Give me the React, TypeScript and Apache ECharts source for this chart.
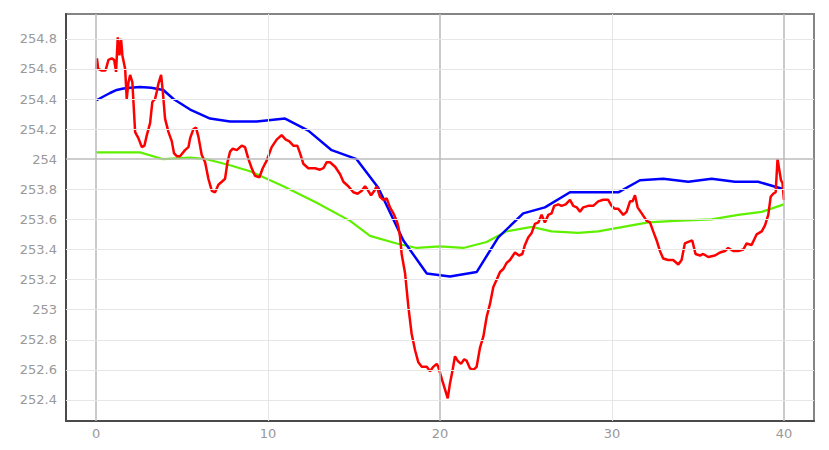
import React, { useEffect, useRef } from "react";
import * as echarts from "echarts";

// ---- data ----
const xTicks = [0, 10, 20, 30, 40];
const yTicks = [252.4, 252.6, 252.8, 253, 253.2, 253.4, 253.6, 253.8, 254, 254.2, 254.4, 254.6, 254.8];

const redX = [
  0.0, 0.05, 0.12, 0.3, 0.55, 0.72, 0.91, 1.05, 1.16, 1.26, 1.36, 1.45, 1.53, 1.69, 1.78, 1.88, 1.98, 2.11, 2.27, 2.46,
  2.66, 2.81, 2.95, 3.14, 3.27, 3.43, 3.53, 3.62, 3.78, 3.88, 4.01, 4.21, 4.4, 4.53, 4.69, 4.88, 5.17, 5.37, 5.47, 5.66,
  5.81, 5.95, 6.14, 6.34, 6.53, 6.73, 6.92, 7.11, 7.31, 7.5, 7.64, 7.79, 7.95, 8.18, 8.47, 8.66, 8.86, 9.05, 9.24, 9.5,
  9.69, 9.92, 10.21, 10.5, 10.79, 11.03, 11.22, 11.47, 11.7, 11.86, 12.05, 12.34, 12.73, 13.02, 13.22, 13.41, 13.6, 13.9, 14.19, 14.38,
  14.67, 14.96, 15.21, 15.45, 15.64, 15.83, 15.99, 16.18, 16.32, 16.51, 16.7, 16.9, 17.09, 17.29, 17.48, 17.58, 17.67, 17.77, 17.97, 18.16,
  18.35, 18.55, 18.74, 18.94, 19.23, 19.42, 19.61, 19.81, 19.9, 20.13, 20.29, 20.45, 20.58, 20.72, 20.87, 21.03, 21.22, 21.41, 21.55, 21.74,
  21.94, 22.13, 22.33, 22.52, 22.71, 22.91, 23.1, 23.3, 23.49, 23.68, 23.87, 24.07, 24.36, 24.59, 24.79, 24.94, 25.13, 25.33, 25.52, 25.72,
  25.91, 26.1, 26.3, 26.49, 26.64, 26.88, 27.07, 27.31, 27.56, 27.75, 27.95, 28.14, 28.33, 28.62, 28.91, 29.2, 29.49, 29.78, 29.98, 30.17,
  30.37, 30.66, 30.85, 31.05, 31.2, 31.34, 31.49, 31.73, 32.02, 32.21, 32.4, 32.6, 32.79, 32.98, 33.27, 33.56, 33.86, 34.05, 34.24, 34.44,
  34.67, 34.86, 35.12, 35.31, 35.6, 35.99, 36.28, 36.57, 36.76, 37.05, 37.34, 37.64, 37.83, 38.12, 38.41, 38.71, 38.9, 39.09, 39.23, 39.38,
  39.52, 39.63, 39.73, 39.83, 39.92, 40.0,
];
const redY = [
  254.6, 254.67, 254.6, 254.59, 254.59, 254.66, 254.67, 254.66, 254.58, 254.81, 254.69, 254.8, 254.69, 254.6, 254.4, 254.51, 254.56, 254.51, 254.18, 254.14,
  254.08, 254.09, 254.16, 254.24, 254.38, 254.4, 254.45, 254.5, 254.56, 254.45, 254.27, 254.18, 254.12, 254.04, 254.02, 254.02, 254.06, 254.08, 254.14, 254.2,
  254.21, 254.15, 254.03, 253.98, 253.87, 253.79, 253.78, 253.83, 253.85, 253.87, 253.98, 254.05, 254.07, 254.06, 254.09, 254.08, 254.0, 253.94, 253.89, 253.88,
  253.94, 253.99, 254.08, 254.13, 254.16, 254.13, 254.12, 254.09, 254.09, 254.04, 253.97, 253.94, 253.94, 253.93, 253.94, 253.98, 253.98, 253.95, 253.9, 253.85,
  253.82, 253.78, 253.77, 253.79, 253.82, 253.79, 253.76, 253.79, 253.82, 253.75, 253.73, 253.74, 253.68, 253.64, 253.59, 253.55, 253.49, 253.37, 253.24, 253.02,
  252.84, 252.73, 252.65, 252.62, 252.62, 252.59, 252.62, 252.64, 252.62, 252.53, 252.47, 252.41, 252.51, 252.59, 252.69, 252.66, 252.64, 252.67, 252.66, 252.61,
  252.6, 252.62, 252.75, 252.82, 252.95, 253.04, 253.15, 253.2, 253.25, 253.27, 253.31, 253.33, 253.38, 253.36, 253.37, 253.43, 253.48, 253.51, 253.57, 253.58,
  253.63, 253.58, 253.63, 253.64, 253.69, 253.7, 253.69, 253.7, 253.73, 253.69, 253.68, 253.65, 253.68, 253.69, 253.69, 253.72, 253.73, 253.73, 253.69, 253.67,
  253.67, 253.63, 253.65, 253.72, 253.72, 253.76, 253.68, 253.64, 253.59, 253.58, 253.52, 253.46, 253.39, 253.34, 253.33, 253.33, 253.3, 253.33, 253.44, 253.45,
  253.46, 253.37, 253.36, 253.37, 253.35, 253.36, 253.38, 253.39, 253.41, 253.39, 253.39, 253.4, 253.44, 253.43, 253.5, 253.52, 253.56, 253.63, 253.75, 253.77,
  253.78, 254.0, 253.93, 253.86, 253.84, 253.73,
];

const blueX = [0, 0.4, 0.81, 1.2, 1.59, 2.0, 2.56, 3.2, 3.91, 4.5, 5.47, 6.63, 7.79, 9.34, 10.99, 12.34, 13.7, 15.15, 16.41, 17.87, 19.23, 20.58, 22.13, 23.39, 24.84, 26.1, 27.56, 30.37, 31.63, 32.98, 34.44, 35.8, 37.15, 38.5, 40.0];
const blueY = [254.39, 254.415, 254.44, 254.46, 254.47, 254.475, 254.48, 254.475, 254.46, 254.4, 254.33, 254.27, 254.25, 254.25, 254.27, 254.19, 254.06, 254.0, 253.81, 253.46, 253.24, 253.22, 253.25, 253.48, 253.64, 253.68, 253.78, 253.78, 253.86, 253.87, 253.85, 253.87, 253.85, 253.85, 253.8];

const greenX = [0, 2.56, 3.91, 5.47, 6.43, 7.79, 8.95, 10.12, 10.89, 12.83, 14.77, 15.93, 17.48, 18.64, 20.0, 21.36, 22.71, 23.85, 25.33, 26.49, 28.04, 29.2, 30.17, 32.11, 33.66, 35.8, 37.34, 38.71, 40.0];
const greenY = [254.045, 254.045, 254.0, 254.01, 254.0, 253.96, 253.92, 253.86, 253.82, 253.71, 253.59, 253.49, 253.44, 253.41, 253.42, 253.41, 253.45, 253.52, 253.55, 253.52, 253.51, 253.52, 253.54, 253.58, 253.59, 253.6, 253.63, 253.65, 253.7];

const zip = (xs: number[], ys: number[]) => xs.map((x, i) => [x, ys[i]]);

export default function App() {
  const ref = useRef<HTMLDivElement>(null);
  useEffect(() => {
    if (!ref.current) return;
    const chart = echarts.init(ref.current, null, { renderer: "svg" });
    const minorCol = "#e6e6e6";
    const majorCol = "#bdbdbd";
    const gridLines: any[] = [];
    xTicks.forEach((v) => {
      const major = v % 20 === 0;
      gridLines.push({ xAxis: v, lineStyle: { color: major ? majorCol : minorCol, width: major ? 1.6 : 1, type: "solid" } });
    });
    yTicks.forEach((v) => {
      const major = Math.abs(v - 254) < 1e-6;
      gridLines.push({ yAxis: v, lineStyle: { color: major ? majorCol : minorCol, width: major ? 1.6 : 1.2, type: "solid" } });
    });
    const labelStyle = { color: "#999", fontFamily: "DejaVu Sans", fontSize: 13 };
    chart.setOption({
      animation: false,
      grid: { left: 66, right: 15, top: 14, bottom: 29, show: true, borderColor: "#858585", borderWidth: 2, backgroundColor: "#fff" },
      xAxis: {
        type: "value",
        min: -1.75,
        max: 41.75,
        axisLine: { show: true, onZero: false, lineStyle: { color: "#4a4a4a", width: 2 } },
        axisTick: { show: false },
        splitLine: { show: false },
        axisLabel: { ...labelStyle, margin: 6, customValues: xTicks, formatter: (v: number) => String(v) },
      },
      yAxis: {
        type: "value",
        min: 252.26,
        max: 254.965,
        axisLine: { show: true, onZero: false, lineStyle: { color: "#4a4a4a", width: 2 } },
        axisTick: { show: false },
        splitLine: { show: false },
        axisLabel: { ...labelStyle, margin: 9, customValues: yTicks, formatter: (v: number) => String(parseFloat(Number(v).toFixed(2))) },
      },
      series: [
        {
          type: "line",
          data: [],
          z: 1,
          silent: true,
          markLine: { silent: true, symbol: "none", label: { show: false }, animation: false, data: gridLines },
        },
        { type: "line", data: zip(greenX, greenY), showSymbol: false, z: 2, lineStyle: { color: "#5ff000", width: 2.2 }, itemStyle: { color: "#5ff000" } },
        { type: "line", data: zip(blueX, blueY), showSymbol: false, z: 3, lineStyle: { color: "#0000ff", width: 2.5 }, itemStyle: { color: "#0000ff" } },
        { type: "line", data: zip(redX, redY), showSymbol: false, z: 4, lineStyle: { color: "#ff0000", width: 2.5 }, itemStyle: { color: "#ff0000" } },
      ],
    });
    return () => chart.dispose();
  }, []);
  return <div ref={ref} style={{ position: "fixed", left: 0, top: 0, width: 829, height: 450, background: "#fff" }} />;
}
